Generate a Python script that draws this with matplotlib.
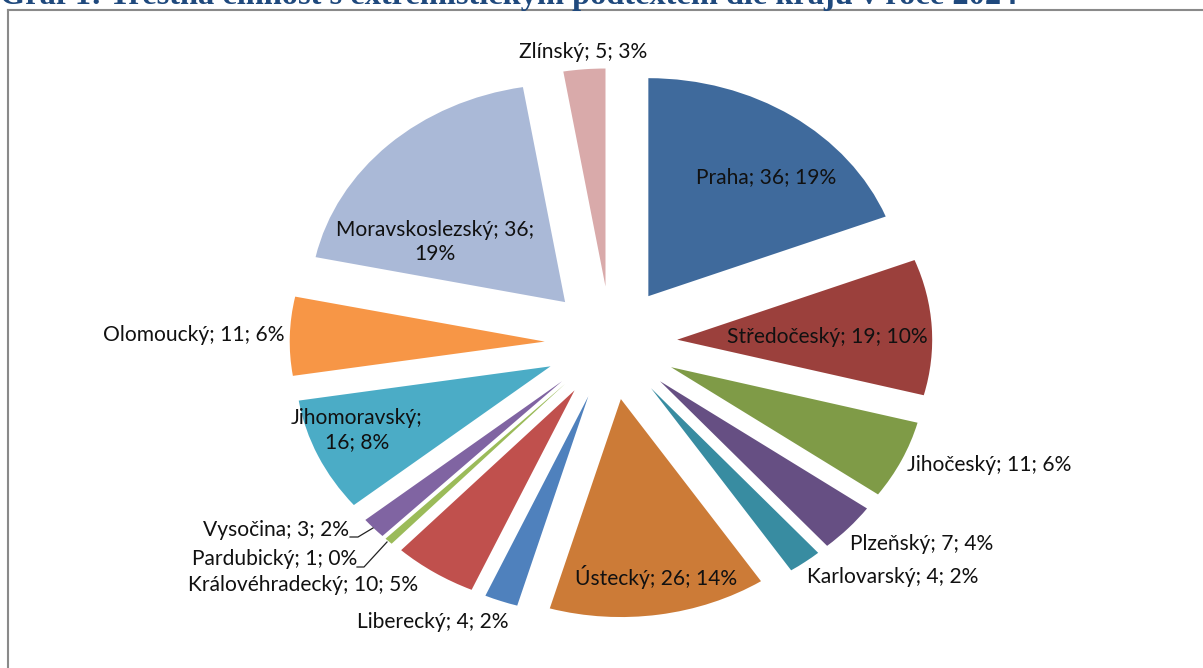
import matplotlib
matplotlib.use('Agg')
import matplotlib.pyplot as plt
from matplotlib.lines import Line2D

# ---------------- data ----------------
regions = ['Praha', 'Středočeský', 'Jihočeský', 'Plzeňský', 'Karlovarský', 'Ústecký',
           'Liberecký', 'Královéhradecký', 'Pardubický', 'Vysočina', 'Jihomoravský',
           'Olomoucký', 'Moravskoslezský', 'Zlínský']
counts = [36, 19, 11, 7, 4, 26, 4, 10, 1, 3, 16, 11, 36, 5]
percent_labels = ['19%', '10%', '6%', '4%', '2%', '14%', '2%', '5%', '0%', '2%', '8%',
                  '6%', '19%', '3%']
title = 'Graf 1: Trestná činnost s extremistickým podtextem dle krajů v roce 2024'

# ---------------- style / layout ----------------
colors = ['#3F6A9C', '#9B403C', '#7F9B47', '#664F83', '#388CA1', '#CC7B37',
          '#4F81BD', '#C0504D', '#9BBB59', '#8064A2', '#4BACC6', '#F79646',
          '#AAB9D7', '#D9AAAA']
# label centres in pixels (x, y from top)
label_px = [(766, 177), (827, 337), (989, 465), (922, 544), (893, 577), (656, 577),
            (433, 622), (303, 585), (275, 559), (276, 530), (357, 430), (194, 335),
            (435, 242), (583, 52)]
label_break = {10: 1, 12: 2}   # break line before part index
# leader lines (pixel polylines) for small slices
leaders = {9: [(350, 537), (358, 537), (373, 528)],
           8: [(357, 567), (364, 567), (387, 542)]}

W, H = 1203, 668
fig = plt.figure(figsize=(W / 100, H / 100), dpi=100)
fig.patch.set_facecolor('white')
ax = fig.add_axes([0, 0, 1, 1])

cx, cy = 611, 343
rx, ry = 255, 218
ax.pie(counts, colors=colors, startangle=90, counterclock=False,
       explode=[0.26] * len(counts), radius=1, center=(0, 0),
       wedgeprops=dict(linewidth=0))
ax.set_aspect('auto')
ax.set_xlim(-cx / rx, (W - cx) / rx)
ax.set_ylim(-(H - cy) / ry, cy / ry)
ax.axis('off')

def fx(px):
    return px / W

def fy(py):
    return 1 - py / H

# fit label font size to reference width
renderer = fig.canvas.get_renderer()
probe = fig.text(0, 0, 'Středočeský; 19; 10%', fontsize=12, family='Lato')
wpx = probe.get_window_extent(renderer).width
probe.remove()
lab_fs = 12 * 199 / wpx

for i, (name, c, p) in enumerate(zip(regions, counts, percent_labels)):
    parts = [name + ';', f'{c};', p]
    if i in label_break:
        b = label_break[i]
        txt = ' '.join(parts[:b]) + '\n' + ' '.join(parts[b:])
    else:
        txt = ' '.join(parts)
    x, y = label_px[i]
    fig.text(fx(x), fy(y), txt, ha='center', va='center', fontsize=lab_fs,
             family='Lato', color='#111111', linespacing=1.25)

for i, pts in leaders.items():
    fig.add_artist(Line2D([fx(p[0]) for p in pts], [fy(p[1]) for p in pts],
                          color='#222222', lw=0.9))

# frame
fig.add_artist(Line2D([fx(7.5), fx(7.5)], [fy(9.5), fy(H + 5)], color='#8A8A8A', lw=1.5))
fig.add_artist(Line2D([fx(7.5), fx(W + 5)], [fy(9.5), fy(9.5)], color='#8A8A8A', lw=1.5))

# title (clipped at top like reference)
probe = fig.text(0, 0, title, fontsize=20, family='Liberation Serif', weight='bold')
tw = probe.get_window_extent(renderer).width
probe.remove()
t_fs = 20 * 1018 / tw
fig.text(fx(0), fy(4), title, ha='left', va='baseline', fontsize=t_fs,
         family='Liberation Serif', weight='bold', color='#1F497D')

fig.savefig('out.png', dpi=100, facecolor='white')
